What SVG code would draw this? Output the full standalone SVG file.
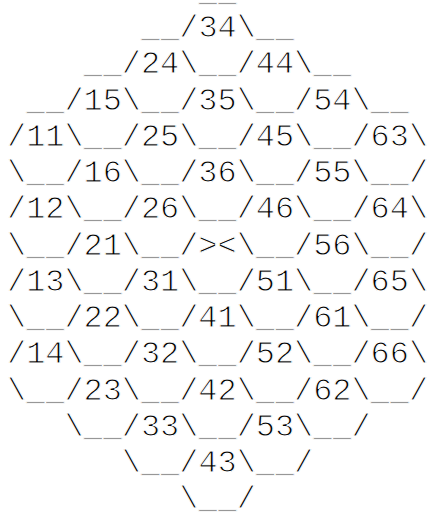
<svg xmlns="http://www.w3.org/2000/svg" width="429" height="517" viewBox="0 0 429 517">
<style>
.t{font-family:"Liberation Mono","Courier New",monospace;font-size:31.9px;fill:#000;stroke:#fff;stroke-width:1;white-space:pre}
</style>
<rect width="429" height="517" fill="#fff"/>
<g id="ascii-hex-grid">
<text class="t" x="198.43" y="0.75">__</text>
<text class="t" x="141" y="37.01">__/34\__</text>
<text class="t" x="83.57" y="73.27">__/24\__/44\__</text>
<text class="t" x="26.14" y="109.53">__/15\__/35\__/54\__</text>
<text class="t" x="7" y="145.79">/11\__/25\__/45\__/63\</text>
<text class="t" x="7" y="182.05">\__/16\__/36\__/55\__/</text>
<text class="t" x="7" y="218.31">/12\__/26\__/46\__/64\</text>
<text class="t" x="7" y="254.57">\__/21\__/&gt;&lt;\__/56\__/</text>
<text class="t" x="7" y="290.83">/13\__/31\__/51\__/65\</text>
<text class="t" x="7" y="327.09">\__/22\__/41\__/61\__/</text>
<text class="t" x="7" y="363.35">/14\__/32\__/52\__/66\</text>
<text class="t" x="7" y="399.61">\__/23\__/42\__/62\__/</text>
<text class="t" x="64.43" y="435.87">\__/33\__/53\__/</text>
<text class="t" x="121.86" y="472.13">\__/43\__/</text>
<text class="t" x="179.29" y="508.39">\__/</text>
</g>
</svg>
